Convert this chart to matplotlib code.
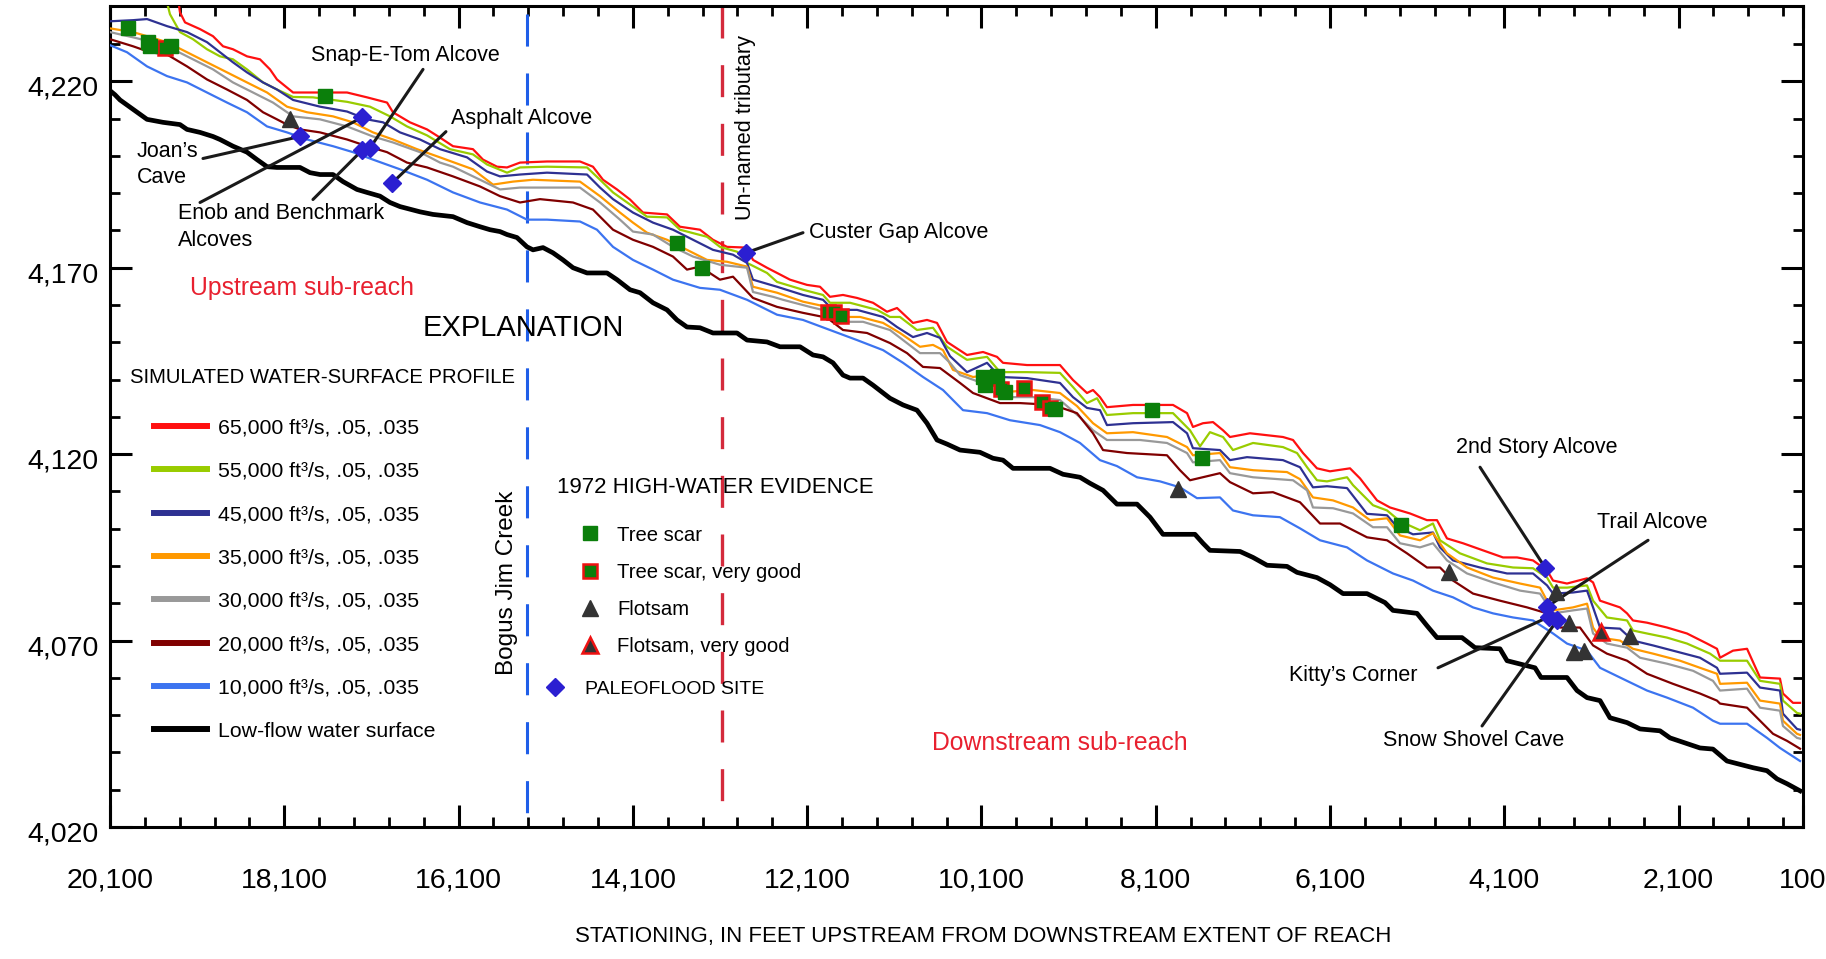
import matplotlib
matplotlib.use("Agg")
import matplotlib.pyplot as plt
from matplotlib.transforms import ScaledTranslation

plt.rcParams['font.family'] = ['Liberation Sans', 'DejaVu Sans']

# (station in ft upstream, water-surface elevation in ft)
low_flow = [(20100, 4217.5), (20043, 4216.4), (19985, 4215.0), (19836, 4212.5), (19675, 4209.8), (19492, 4209.0),
            (19297, 4208.4), (19216, 4207.1), (19067, 4206.3), (18918, 4205.2), (18838, 4204.4), (18689, 4202.6),
            (18528, 4201.0), (18413, 4199.0), (18298, 4197.1), (18184, 4196.9), (17920, 4196.9), (17805, 4195.5),
            (17690, 4195.0), (17541, 4195.0), (17426, 4193.1), (17266, 4191.0), (17151, 4190.2), (17002, 4189.2),
            (16887, 4187.5), (16772, 4186.4), (16543, 4185.0), (16394, 4184.3), (16164, 4183.7), (16003, 4182.1),
            (15854, 4181.0), (15740, 4180.2), (15625, 4179.7), (15544, 4178.9), (15430, 4178.1), (15315, 4175.6),
            (15246, 4174.8), (15131, 4175.4), (15017, 4174.0), (14902, 4172.1), (14787, 4170.0), (14626, 4168.6),
            (14397, 4168.6), (14282, 4166.8), (14133, 4164.1), (14018, 4163.3), (13869, 4160.6), (13708, 4158.7),
            (13594, 4156.0), (13479, 4154.1), (13330, 4153.9), (13181, 4152.5), (12905, 4152.5), (12790, 4150.6),
            (12561, 4150.1), (12412, 4148.8), (12182, 4148.8), (12033, 4146.6), (11918, 4146.1), (11804, 4144.5),
            (11689, 4141.2), (11608, 4140.4), (11459, 4140.4), (11344, 4138.5), (11150, 4135.0), (11000, 4133.2),
            (10840, 4131.8), (10725, 4128.3), (10610, 4123.8), (10495, 4122.7), (10346, 4121.1), (10117, 4120.5),
            (9968, 4118.9), (9853, 4118.4), (9738, 4116.2), (9314, 4116.2), (9164, 4114.6), (8969, 4113.8),
            (8855, 4112.2), (8705, 4110.3), (8545, 4106.6), (8315, 4106.6), (8166, 4103.1), (8017, 4098.5),
            (7650, 4098.5), (7558, 4096.1), (7478, 4094.2), (7133, 4093.9), (6984, 4092.3), (6823, 4090.2),
            (6594, 4089.9), (6479, 4088.3), (6250, 4086.9), (6101, 4085.0), (5951, 4082.6), (5676, 4082.6),
            (5470, 4080.2), (5378, 4078.1), (5102, 4077.3), (4988, 4074.0), (4873, 4070.8), (4586, 4070.8),
            (4437, 4068.1), (4150, 4067.8), (4069, 4064.6), (3748, 4062.7), (3679, 4060.1), (3381, 4060.1),
            (3266, 4056.6), (3151, 4054.7), (3002, 4053.9), (2888, 4049.3), (2692, 4048.0), (2543, 4046.3),
            (2314, 4045.8), (2199, 4043.9), (1855, 4041.2), (1706, 4040.9), (1545, 4037.7), (1246, 4035.9),
            (1086, 4035.1), (971, 4032.9), (856, 4031.6), (707, 4029.7)]

q65 = [(19320, 4242.2), (19297, 4238.5), (19239, 4235.8), (19067, 4234.0), (18918, 4232.1), (18803, 4229.4),
       (18689, 4228.6), (18528, 4226.7), (18379, 4225.9), (18264, 4223.2), (18184, 4220.5), (17999, 4217.0),
       (17771, 4217.0), (17380, 4217.0), (17151, 4215.7), (16921, 4214.3), (16853, 4211.7), (16658, 4209.0),
       (16462, 4207.1), (16313, 4204.9), (16164, 4202.6), (15935, 4201.8), (15820, 4199.0), (15659, 4197.1),
       (15544, 4196.9), (15395, 4198.2), (15085, 4198.5), (14707, 4198.5), (14558, 4197.1), (14443, 4193.6),
       (14282, 4191.0), (14133, 4188.3), (13984, 4184.8), (13708, 4184.3), (13560, 4181.0), (13330, 4180.2),
       (13181, 4177.5), (13020, 4175.6), (12790, 4175.4), (12722, 4172.1), (12561, 4170.0), (12297, 4166.8),
       (12102, 4165.4), (11953, 4164.9), (11838, 4162.2), (11689, 4162.7), (11528, 4161.9), (11344, 4160.6),
       (11184, 4158.2), (11069, 4159.2), (10886, 4155.2), (10725, 4156.0), (10610, 4155.2), (10495, 4150.1),
       (10266, 4146.6), (10082, 4147.4), (9922, 4146.1), (9853, 4144.5), (9577, 4143.9), (9199, 4143.9),
       (9050, 4139.9), (8889, 4136.4), (8820, 4137.2), (8740, 4135.3), (8660, 4132.6), (8361, 4133.2),
       (7902, 4133.2), (7741, 4131.0), (7673, 4127.3), (7558, 4128.3), (7443, 4128.6), (7328, 4126.4),
       (7248, 4124.6), (7019, 4125.6), (6640, 4124.6), (6525, 4123.8), (6410, 4120.3), (6250, 4116.2),
       (6101, 4115.4), (5871, 4116.2), (5756, 4113.5), (5561, 4107.6), (5412, 4105.7), (5183, 4104.1),
       (4988, 4102.3), (4873, 4102.3), (4758, 4097.4), (4574, 4096.1), (4345, 4094.2), (4115, 4092.3),
       (3954, 4092.3), (3771, 4091.5), (3610, 4088.8), (3541, 4086.1), (3381, 4085.3), (3151, 4086.7),
       (3082, 4085.6), (3002, 4080.7), (2773, 4078.9), (2692, 4077.3), (2624, 4075.4), (2463, 4074.8),
       (2233, 4073.5), (2004, 4071.9), (1774, 4069.2), (1660, 4067.8), (1625, 4065.4), (1476, 4067.3),
       (1315, 4067.8), (1166, 4060.1), (937, 4059.8), (903, 4055.8), (788, 4053.3), (707, 4053.3)]

q55 = [(19457, 4242.2), (19412, 4238.0), (19297, 4233.2), (19148, 4231.3), (18987, 4228.6), (18838, 4226.7),
       (18689, 4225.9), (18528, 4223.2), (18344, 4219.7), (18184, 4217.8), (17999, 4215.8), (17771, 4215.7),
       (17380, 4214.5), (17117, 4213.2), (16887, 4210.6), (16692, 4207.9), (16462, 4205.5), (16199, 4201.8),
       (15935, 4200.4), (15774, 4197.7), (15544, 4195.5), (15395, 4196.9), (15085, 4197.1), (14626, 4196.9),
       (14477, 4193.6), (14328, 4190.2), (14099, 4186.4), (13938, 4183.7), (13708, 4183.5), (13560, 4180.2),
       (13249, 4178.3), (13101, 4175.6), (12905, 4174.3), (12790, 4171.3), (12561, 4168.6), (12446, 4166.2),
       (12148, 4164.1), (11918, 4162.7), (11838, 4160.6), (11608, 4160.6), (11298, 4158.7), (11150, 4156.8),
       (11035, 4156.8), (10840, 4153.3), (10656, 4153.9), (10495, 4148.8), (10266, 4145.3), (10036, 4146.1),
       (9887, 4142.0), (9577, 4142.0), (9199, 4141.8), (9050, 4138.0), (8889, 4133.7), (8774, 4135.0),
       (8660, 4130.5), (8361, 4131.0), (7902, 4131.0), (7707, 4126.4), (7592, 4122.1), (7478, 4125.9),
       (7328, 4124.6), (7214, 4121.1), (6984, 4123.0), (6640, 4121.9), (6479, 4120.3), (6364, 4116.5),
       (6250, 4113.0), (6135, 4112.7), (5905, 4113.8), (5837, 4111.7), (5607, 4106.3), (5446, 4104.9),
       (5297, 4102.0), (5068, 4099.6), (4919, 4101.4), (4838, 4096.9), (4609, 4093.4), (4299, 4090.7),
       (4000, 4089.6), (3771, 4089.4), (3610, 4086.9), (3541, 4084.2), (3381, 4084.2), (3151, 4084.8),
       (3082, 4080.7), (2923, 4076.2), (2692, 4075.4), (2624, 4072.7), (2463, 4071.9), (2233, 4070.8),
       (2004, 4069.2), (1740, 4066.5), (1625, 4064.6), (1315, 4064.6), (1166, 4059.2), (937, 4058.4),
       (903, 4053.9), (742, 4050.6), (707, 4050.4)]

q45 = [(20100, 4236.1), (19836, 4236.4), (19675, 4236.7), (19446, 4234.8), (19216, 4233.2), (18987, 4230.5),
       (18838, 4227.8), (18689, 4225.1), (18528, 4222.4), (18344, 4219.7), (18184, 4217.8), (17999, 4215.0),
       (17690, 4213.2), (17380, 4211.9), (17151, 4209.8), (16967, 4209.0), (16772, 4206.3), (16543, 4204.4),
       (16313, 4201.8), (16003, 4199.6), (15774, 4195.8), (15625, 4194.5), (15395, 4195.0), (15085, 4195.5),
       (14626, 4195.0), (14477, 4191.5), (14328, 4188.4), (14099, 4184.8), (13869, 4182.1), (13640, 4180.2),
       (13410, 4177.5), (13181, 4174.8), (12951, 4173.5), (12790, 4171.3), (12722, 4166.8), (12446, 4164.9),
       (12148, 4162.7), (11918, 4161.4), (11804, 4158.7), (11528, 4158.7), (11229, 4156.8), (11069, 4154.1),
       (10886, 4151.4), (10725, 4152.5), (10576, 4151.2), (10461, 4146.3), (10266, 4142.0), (10036, 4144.5),
       (9887, 4140.7), (9577, 4140.4), (9199, 4139.1), (9050, 4135.3), (8889, 4132.4), (8740, 4131.8),
       (8660, 4127.8), (8361, 4128.3), (7902, 4128.6), (7741, 4125.6), (7673, 4121.6), (7363, 4121.1),
       (7248, 4118.4), (7053, 4119.2), (6640, 4118.4), (6445, 4116.5), (6296, 4111.1), (6135, 4111.4),
       (5905, 4110.9), (5676, 4104.0), (5446, 4103.6), (5332, 4100.5), (5148, 4098.5), (4919, 4099.0),
       (4838, 4095.0), (4689, 4091.5), (4379, 4089.6), (4069, 4088.0), (3771, 4088.0), (3610, 4084.8),
       (3541, 4082.6), (3312, 4082.9), (3151, 4083.4), (3082, 4078.9), (3002, 4073.5), (2773, 4073.2),
       (2624, 4070.0), (2394, 4068.7), (2165, 4067.3), (1855, 4065.4), (1660, 4062.7), (1625, 4061.1),
       (1315, 4061.4), (1166, 4057.4), (937, 4056.6), (903, 4050.4), (742, 4046.3), (707, 4046.1)]

q35 = [(20100, 4234.2), (19836, 4233.2), (19675, 4232.1), (19446, 4230.5), (19216, 4227.8), (18987, 4225.1),
       (18757, 4222.4), (18528, 4219.7), (18298, 4217.0), (18069, 4213.2), (17839, 4211.7), (17541, 4210.6),
       (17312, 4209.0), (17082, 4206.3), (16853, 4204.4), (16577, 4201.8), (16313, 4199.6), (15935, 4196.4),
       (15705, 4192.3), (15476, 4193.1), (15246, 4193.6), (14707, 4193.1), (14477, 4189.2), (14248, 4184.8),
       (14099, 4182.1), (13938, 4179.4), (13708, 4177.5), (13479, 4174.8), (13249, 4172.1), (13020, 4171.6),
       (12790, 4170.3), (12722, 4164.9), (12446, 4163.3), (12148, 4160.9), (11872, 4159.5), (11758, 4156.8),
       (11493, 4156.8), (11229, 4155.2), (11035, 4152.5), (10805, 4148.8), (10656, 4149.3), (10541, 4147.9),
       (10427, 4142.6), (10197, 4140.7), (10036, 4141.2), (9922, 4137.7), (9807, 4136.7), (9509, 4137.2),
       (9199, 4136.4), (9004, 4132.9), (8820, 4128.3), (8660, 4125.6), (8361, 4125.9), (7971, 4124.6),
       (7741, 4121.9), (7673, 4119.7), (7363, 4120.3), (7248, 4116.5), (6984, 4115.7), (6594, 4115.2),
       (6445, 4113.3), (6296, 4108.4), (6066, 4107.6), (5837, 4105.7), (5642, 4102.3), (5446, 4102.8),
       (5297, 4098.2), (5068, 4096.9), (4919, 4098.8), (4758, 4093.4), (4528, 4089.6), (4230, 4086.9),
       (3920, 4085.3), (3690, 4084.2), (3610, 4080.7), (3541, 4078.1), (3312, 4078.9), (3151, 4079.9),
       (3082, 4073.5), (3002, 4070.8), (2773, 4070.0), (2624, 4067.8), (2394, 4066.5), (2084, 4064.6),
       (1855, 4062.7), (1660, 4061.1), (1625, 4058.4), (1315, 4058.7), (1166, 4053.9), (937, 4053.1),
       (903, 4048.5), (742, 4045.0), (707, 4044.7)]

q30 = [(20100, 4233.2), (19836, 4231.8), (19607, 4230.5), (19377, 4228.6), (19148, 4225.9), (18918, 4223.2),
       (18689, 4219.7), (18459, 4217.0), (18230, 4214.3), (17999, 4210.6), (17690, 4209.8), (17380, 4207.9),
       (17082, 4205.2), (16853, 4203.6), (16543, 4201.0), (16313, 4198.2), (16164, 4197.1), (15854, 4193.6),
       (15625, 4191.0), (15395, 4191.5), (14707, 4191.5), (14477, 4187.5), (14248, 4182.9), (14099, 4179.7),
       (13869, 4178.9), (13640, 4175.6), (13410, 4173.0), (13101, 4170.8), (12790, 4170.0), (12722, 4163.5),
       (12492, 4162.2), (12377, 4161.4), (12068, 4159.5), (11838, 4158.2), (11723, 4155.5), (11459, 4155.5),
       (11150, 4153.3), (11000, 4150.6), (10805, 4147.1), (10576, 4147.1), (10461, 4144.5), (10346, 4141.2),
       (10117, 4139.3), (9887, 4135.3), (9509, 4135.3), (9199, 4134.5), (8969, 4129.9), (8820, 4126.4),
       (8660, 4123.8), (8281, 4123.8), (7971, 4123.0), (7741, 4120.3), (7673, 4117.8), (7363, 4118.4),
       (7248, 4114.9), (6984, 4113.8), (6525, 4113.0), (6364, 4110.3), (6296, 4105.7), (6066, 4105.5),
       (5837, 4104.1), (5607, 4100.4), (5446, 4100.4), (5297, 4096.1), (5068, 4095.0), (4919, 4096.1),
       (4758, 4091.5), (4528, 4088.0), (4230, 4085.6), (3920, 4083.4), (3690, 4082.6), (3541, 4077.3),
       (3312, 4078.1), (3151, 4078.6), (3082, 4071.9), (2923, 4069.2), (2692, 4068.1), (2543, 4065.4),
       (2233, 4063.8), (1935, 4061.9), (1706, 4059.2), (1625, 4056.6), (1315, 4057.1), (1166, 4052.0),
       (937, 4051.2), (903, 4047.1), (742, 4043.9), (707, 4043.7)]

q20 = [(20100, 4231.3), (19836, 4229.4), (19641, 4227.8), (19446, 4227.2), (19216, 4224.0), (18987, 4220.5),
       (18757, 4217.8), (18528, 4215.0), (18344, 4211.7), (18184, 4209.8), (18069, 4208.4), (17920, 4207.1),
       (17690, 4206.3), (17380, 4204.4), (17151, 4202.6), (16921, 4201.0), (16692, 4198.2), (16462, 4196.9),
       (16164, 4194.5), (15854, 4191.8), (15625, 4189.2), (15395, 4187.5), (15166, 4188.4), (14787, 4187.5),
       (14558, 4185.6), (14328, 4180.2), (14099, 4177.5), (13869, 4175.6), (13640, 4173.0), (13479, 4169.5),
       (13330, 4170.3), (13101, 4166.8), (12951, 4167.6), (12722, 4161.9), (12446, 4159.5), (12148, 4157.9),
       (11872, 4156.6), (11689, 4153.3), (11413, 4152.5), (11150, 4149.8), (10954, 4147.1), (10771, 4143.4),
       (10576, 4143.1), (10346, 4139.1), (10197, 4136.4), (9887, 4133.7), (9658, 4133.7), (9279, 4133.2),
       (9004, 4131.0), (8820, 4125.6), (8705, 4121.1), (8430, 4120.3), (7971, 4119.7), (7822, 4115.7),
       (7707, 4113.0), (7363, 4114.9), (7248, 4112.5), (6984, 4109.5), (6755, 4109.8), (6445, 4107.1),
       (6215, 4101.4), (5986, 4101.4), (5676, 4097.7), (5446, 4096.9), (5217, 4093.4), (4988, 4089.6),
       (4838, 4089.6), (4689, 4086.1), (4459, 4082.6), (4150, 4080.7), (3839, 4078.9), (3610, 4077.3),
       (3461, 4073.5), (3232, 4073.5), (3082, 4068.7), (2923, 4066.5), (2692, 4064.6), (2463, 4061.1),
       (2165, 4058.4), (1855, 4055.8), (1660, 4053.9), (1625, 4053.1), (1315, 4052.0), (1166, 4048.5),
       (1017, 4045.0), (856, 4043.1), (707, 4041.0)]

q10 = [(20100, 4229.7), (19905, 4227.8), (19675, 4224.0), (19446, 4221.4), (19216, 4219.7), (18987, 4217.0),
       (18757, 4214.3), (18528, 4211.7), (18298, 4207.9), (18069, 4206.3), (17839, 4204.4), (17541, 4202.6),
       (17312, 4201.0), (17082, 4199.0), (16772, 4196.4), (16462, 4193.6), (16164, 4190.2), (15854, 4187.5),
       (15544, 4185.6), (15315, 4182.9), (15085, 4182.9), (14707, 4182.4), (14512, 4180.2), (14328, 4175.6),
       (14099, 4172.1), (13869, 4169.5), (13640, 4166.8), (13330, 4164.6), (13101, 4164.1), (12790, 4161.4),
       (12446, 4157.4), (12148, 4156.0), (11838, 4153.3), (11528, 4150.6), (11229, 4147.9), (11000, 4144.5),
       (10771, 4140.7), (10541, 4137.2), (10312, 4131.8), (10036, 4131.0), (9773, 4129.1), (9428, 4127.8),
       (9199, 4125.9), (8969, 4123.0), (8740, 4118.4), (8545, 4116.8), (8315, 4113.8), (8051, 4112.7),
       (7822, 4111.1), (7627, 4108.2), (7363, 4108.4), (7214, 4104.9), (6984, 4103.6), (6675, 4103.1),
       (6445, 4100.1), (6215, 4096.9), (5905, 4095.0), (5676, 4091.5), (5378, 4088.0), (5148, 4086.1),
       (4919, 4083.4), (4689, 4081.6), (4459, 4078.9), (4230, 4077.3), (4000, 4076.2), (3771, 4075.4),
       (3541, 4071.9), (3381, 4069.2), (3151, 4067.3), (3002, 4062.7), (2773, 4060.1), (2463, 4056.6),
       (2233, 4054.7), (1935, 4052.0), (1706, 4048.5), (1625, 4047.7), (1315, 4047.7), (1086, 4043.9),
       (937, 4041.2), (707, 4037.7)]

# 1972 high-water evidence and paleoflood sites
tree_scar = [(19893, 4234.2), (19664, 4230.5), (19641, 4229.4), (19400, 4229.4), (17633, 4216.0), (13594, 4176.7),
             (13307, 4170.0), (10082, 4140.7), (9922, 4141.0), (10059, 4138.5), (9830, 4136.7), (9256, 4132.1),
             (8143, 4131.8), (7569, 4118.9), (5286, 4100.9)]
tree_scar_good = [(19469, 4228.9), (11861, 4158.2), (11792, 4158.2), (11712, 4157.1), (10025, 4140.4),
                  (9876, 4137.5), (9612, 4137.7), (9405, 4134.0), (9314, 4132.4)]
flotsam = [(18034, 4210.0), (7845, 4110.6), (4735, 4088.5), (3507, 4082.9), (3358, 4074.6), (3300, 4067.0),
           (3186, 4067.3), (2658, 4071.3)]
flotsam_good = [(2991, 4072.4)]
paleo_sites = [(17920, 4205.2), (17208, 4210.3), (17208, 4201.5), (17117, 4202.1), (16864, 4192.7),
               (12802, 4174.0), (3633, 4089.6), (3610, 4079.1), (3587, 4076.4), (3495, 4075.4)]

# site labels: text, text position, leader start, index of site
site_labels = [
    ("Joan\u2019s\nCave", (19790, 4197.7), [((19033, 4199.3), 0)]),
    ("Enob and Benchmark\nAlcoves", (19320, 4181.0), [((19067, 4187.5), 1), ((17771, 4188.3), 2)]),
    ("Snap-E-Tom Alcove", (17793, 4227.0), [((16508, 4223.2), 3)]),
    ("Asphalt Alcove", (16187, 4210.0), [((16245, 4206.5), 4)]),
    ("Custer Gap Alcove", (12079, 4179.4), [((12148, 4179.4), 5)]),
    ("2nd Story Alcove", (4655, 4121.9), [((4379, 4116.5), 6)]),
    ("Trail Alcove", (3036, 4101.7), [((2451, 4096.9), 7)]),
    ("Snow Shovel Cave", (5493, 4043.1), [((4356, 4047.1), 9)]),
]
kitty_label = ("Kitty\u2019s Corner", (5091, 4060.6), [((4861, 4062.7), 8)])

BOGUS_JIM_ST = 15315
UNNAMED_TRIB_ST = 13077
X_RIGHT = 673

profiles = [
    ("65,000 ft\u00b3/s, .05, .035", q65, "#ff1010"),
    ("55,000 ft\u00b3/s, .05, .035", q55, "#99cc00"),
    ("45,000 ft\u00b3/s, .05, .035", q45, "#2e3192"),
    ("35,000 ft\u00b3/s, .05, .035", q35, "#ff9900"),
    ("30,000 ft\u00b3/s, .05, .035", q30, "#999999"),
    ("20,000 ft\u00b3/s, .05, .035", q20, "#800000"),
    ("10,000 ft\u00b3/s, .05, .035", q10, "#3c74f0"),
]

fig = plt.figure(figsize=(18.26, 9.59), dpi=100)
ax = fig.add_axes([0.06024, 0.13764, 0.92716, 0.85610])

line_handles = []
for label, pts, col in profiles:
    h, = ax.plot([p[0] for p in pts], [p[1] for p in pts], color=col, lw=1.6, label=label, zorder=3)
    line_handles.append(h)
h, = ax.plot([p[0] for p in low_flow], [p[1] for p in low_flow], color="black", lw=3.4,
             label="Low-flow water surface", zorder=3)
line_handles.append(h)

# tributary reference lines
trans = ax.get_xaxis_transform()
ax.plot([BOGUS_JIM_ST, BOGUS_JIM_ST], [0.990, 0.017], transform=trans, color="#1f5ee8",
        lw=2.2, dashes=(10.5, 8.8), zorder=2)
ax.plot([UNNAMED_TRIB_ST, UNNAMED_TRIB_ST], [1.0, 0.029], transform=trans, color="#d42a3c",
        lw=2.4, dashes=(9.6, 8.0), zorder=2)

# leader lines
for text, pos, leaders in site_labels + [kitty_label]:
    for start, idx in leaders:
        ax.annotate("", xy=paleo_sites[idx], xytext=start,
                    arrowprops=dict(arrowstyle="-", color="#1a1a1a", lw=2.2, shrinkA=0, shrinkB=0),
                    zorder=4)

green = "#0b7f0b"
tsg_h, = ax.plot([p[0] for p in tree_scar_good], [p[1] for p in tree_scar_good], ls="none", marker="s",
                 ms=10, mfc=green, mec="#ee1111", mew=1.8, zorder=5, label="Tree scar, very good")
ts_h, = ax.plot([p[0] for p in tree_scar], [p[1] for p in tree_scar], ls="none", marker="s",
                ms=10, mfc=green, mec=green, zorder=5, label="Tree scar")
fl_h, = ax.plot([p[0] for p in flotsam], [p[1] for p in flotsam], ls="none", marker="^",
                ms=11, mfc="#333333", mec="#333333", zorder=5, label="Flotsam")
flg_h, = ax.plot([p[0] for p in flotsam_good], [p[1] for p in flotsam_good], ls="none", marker="^",
                 ms=11, mfc="#333333", mec="#ee1111", mew=1.8, zorder=5, label="Flotsam, very good")
pal_h, = ax.plot([p[0] for p in paleo_sites], [p[1] for p in paleo_sites], ls="none", marker="D",
                 ms=9.5, mfc="#2b1fd1", mec="#2b1fd1", zorder=6, label="PALEOFLOOD SITE")

# site label texts
lab_fs = 15.5
for text, pos, leaders in site_labels:
    ax.text(pos[0], pos[1], text, fontsize=lab_fs, ha="left", va="center", linespacing=1.35, zorder=7)
ax.text(kitty_label[1][0], kitty_label[1][1], kitty_label[0], fontsize=lab_fs, ha="right", va="center")

ax.text(12813, 4207.6, "Un-named tributary", rotation=90, fontsize=15.6, ha="center", va="center")
ax.text(15544, 4085.6, "Bogus Jim Creek", rotation=90, fontsize=17.5, ha="center", va="center")
ax.text(19182, 4164.6, "Upstream sub-reach", fontsize=17.8, color="#e8202f", ha="left", va="center")
ax.text(10667, 4042.6, "Downstream sub-reach", fontsize=17.8, color="#e8202f", ha="left", va="center")

# explanation
ax.text(0.1849, 0.6078, "EXPLANATION", transform=ax.transAxes, fontsize=21, ha="left", va="center")
ax.text(0.0118, 0.5469, "SIMULATED WATER-SURFACE PROFILE", transform=ax.transAxes, fontsize=14.6,
        ha="left", va="center")
ax.text(0.2640, 0.4141, "1972 HIGH-WATER EVIDENCE", transform=ax.transAxes, fontsize=16,
        ha="left", va="center")

leg1 = ax.legend(handles=line_handles, loc="upper left", bbox_to_anchor=(0.0260, 0.4975), frameon=False,
                 fontsize=15.3, handlelength=2.5, handletextpad=0.52, labelspacing=1.145,
                 borderpad=0, borderaxespad=0)
for ln in leg1.get_lines():
    ln.set_linewidth(4.3)
ax.add_artist(leg1)
leg2 = ax.legend(handles=[ts_h, tsg_h, fl_h, flg_h], loc="upper left", bbox_to_anchor=(0.2776, 0.3672),
                 frameon=False, fontsize=14.6, handlelength=1.0, handletextpad=0.84, labelspacing=0.9,
                 borderpad=0, borderaxespad=0)
ax.add_artist(leg2)
ax.legend(handles=[pal_h], loc="upper left", bbox_to_anchor=(0.2569, 0.1790), frameon=False, fontsize=14,
          handlelength=1.0, handletextpad=1.08, borderpad=0, borderaxespad=0)

# axes
ax.set_xlim(20100, X_RIGHT)
ax.set_ylim(4020, 4240.2)
major_x = list(range(20100, 2000, -2000))
ax.set_xticks(major_x + [X_RIGHT])
ax.set_xticklabels([f"{v:,}" for v in major_x] + ["100"])
ax.set_xticks([s for s in range(20100, X_RIGHT, -400) if s not in major_x], minor=True)
major_y = list(range(4020, 4221, 50))
ax.set_yticks(major_y)
ax.set_yticklabels([f"{v:,}" for v in major_y])
ax.set_yticks([v for v in range(4030, 4240, 10) if v not in major_y], minor=True)

ax.tick_params(which="both", direction="in", top=True, right=True, labelsize=20.5)
ax.tick_params(which="major", length=16, width=2.2)
ax.tick_params(which="minor", length=7.5, width=2.0)
for sp in ax.spines.values():
    sp.set_linewidth(2.2)

ax.set_xlabel("STATIONING, IN FEET UPSTREAM FROM DOWNSTREAM EXTENT OF REACH", fontsize=16)
ax.xaxis.set_label_coords(0.5157, -0.12)

ax.tick_params(axis="x", which="major", pad=29.5)
ax.tick_params(axis="y", which="major", pad=8)
# y labels sit a little below their ticks in the original
shift = ScaledTranslation(0, -0.045, fig.dpi_scale_trans)
for lab in ax.get_yticklabels():
    lab.set_transform(lab.get_transform() + shift)

fig.savefig("out.png", dpi=100)
